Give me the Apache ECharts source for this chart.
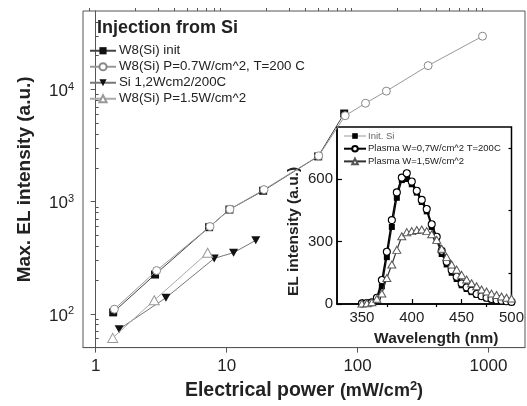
<!DOCTYPE html>
<html><head><meta charset="utf-8">
<script src="https://cdn.jsdelivr.net/npm/echarts/dist/echarts.min.js"></script>
<style>html,body{margin:0;padding:0;background:#fff}#c{width:527px;height:406px}</style>
</head><body><div id="c"></div>
<script>
// ---- main chart data (Electrical power mW/cm^2 vs Max. EL intensity a.u.) ----
const nameInit = 'W8(Si) init';
const powerInit = [1.36, 2.84, 7.35, 10.5, 19, 50, 79];
const elInit = [103, 224, 592, 850, 1250, 2530, 6100];

const nameP07 = 'W8(Si) P=0.7W/cm^2, T=200 C';
const powerP07 = [1.39, 2.92, 7.46, 10.6, 19.3, 50.5, 80.4, 115, 166, 346, 900];
const elP07 = [110, 243, 600, 855, 1280, 2560, 5830, 7530, 9660, 16300, 29800];

const nameSi12 = 'Si 1,2Wcm2/200C';
const powerSi12 = [1.51, 3.44, 8.04, 11.3, 16.7];
const elSi12 = [73, 139, 312, 351, 452];

const nameP15 = 'W8(Si) P=1.5W/cm^2';
const powerP15 = [1.35, 2.8, 7.16];
const elP15 = [61, 132, 350];

// ---- main axis ticks ----
const xMajor = [1, 10, 100, 1000];
const xMinor = [0.9, 2, 3, 4, 5, 6, 7, 8, 9, 20, 30, 40, 50, 60, 70, 80, 90, 200, 300, 400, 500, 600, 700, 800, 900];
const yMajor = [100, 1000, 10000];
const yMinor = [60, 70, 80, 90, 200, 300, 400, 500, 600, 700, 800, 900, 2000, 3000, 4000, 5000, 6000, 7000, 8000, 9000, 20000, 30000, 40000];

// ---- inset data (Wavelength nm vs EL intensity a.u.) ----
const insetNameInit = 'Init. Si';
const insetNameP07 = 'Plasma W=0,7W/cm^2 T=200C';
const insetNameP15 = 'Plasma W=1,5W/cm^2';
const wavelength = [350, 355, 360, 365, 370, 375, 380, 385, 390, 395, 400, 405, 410, 415, 420, 425, 430, 435, 440, 445, 450, 455, 460, 465, 470, 475, 480, 485, 490, 495, 500];
const insetInit = [0, 2, 5, 25, 85, 225, 370, 510, 595, 600, 575, 535, 490, 445, 370, 305, 240, 190, 150, 120, 90, 72, 57, 44, 35, 27, 21, 17, 14, 11, 9];
const insetP07 = [3, 5, 8, 30, 115, 251, 403, 536, 607, 628, 588, 544, 500, 456, 383, 323, 256, 203, 163, 131, 99, 80, 64, 48, 38, 30, 24, 19, 16, 13, 10];
const insetP15 = [2, 4, 8, 25, 50, 125, 190, 260, 325, 345, 350, 355, 358, 350, 335, 308, 265, 225, 190, 165, 140, 118, 100, 85, 70, 60, 50, 43, 36, 30, 26];
const insetXMajor = [350, 400, 450, 500];
const insetXMinor = [375, 425, 475];
const insetYMajor = [0, 300, 600];
const insetYMinor = [150, 450, 750];

const FONT = "'Liberation Sans', Arial, sans-serif";
const lg = v => Math.log10(v);
const pairs = (xs, ys) => xs.map((x, i) => [lg(x), lg(ys[i])]);
const zipPairs = (xs, ys) => xs.map((x, i) => [x, ys[i]]);
const AX = '#555';
const TXT = '#222';

const option = {
  animation: false,
  backgroundColor: '#fff',
  textStyle: { fontFamily: FONT },
  title: {
    text: 'Injection from Si', left: 97, top: 19, padding: 0,
    textStyle: { fontFamily: FONT, fontSize: 18, fontWeight: 'bold', color: TXT }
  },
  legend: [
    {
      data: [nameInit, nameP07, nameSi12, nameP15],
      orient: 'vertical', left: 89, top: 44, padding: 0,
      itemWidth: 26, itemHeight: 9, itemGap: 2.5,
      textStyle: { fontFamily: FONT, fontSize: 13.3, lineHeight: 13.5, color: TXT, padding: [0, 0, 0, -2] }
    },
    {
      data: [
        { name: insetNameInit, lineStyle: { color: '#999', width: 1 }, textStyle: { color: '#666' } },
        insetNameP07, insetNameP15
      ],
      orient: 'vertical', left: 343, top: 131, padding: 0,
      itemWidth: 22, itemHeight: 7, itemGap: 2.7,
      textStyle: { fontFamily: FONT, fontSize: 9.5, lineHeight: 10, color: TXT, padding: [0, 0, 0, -3] }
    }
  ],
  grid: [
    { left: 83, top: 11, width: 442, height: 343, show: true, borderColor: AX, borderWidth: 1, backgroundColor: 'transparent' },
    { left: 337, top: 127, width: 178, height: 177, show: true, borderColor: '#000', borderWidth: 1.5, backgroundColor: '#fff' }
  ],
  xAxis: [
    {
      gridIndex: 0, type: 'value', min: lg(0.8), max: lg(1900),
      axisLine: { show: true, lineStyle: { color: AX, width: 1 } },
      axisTick: { show: true, customValues: xMajor.map(lg), length: 5, lineStyle: { color: AX } },
      axisLabel: { customValues: xMajor.map(lg), formatter: v => String(Math.round(Math.pow(10, v))), fontSize: 17, color: TXT, margin: 10, fontFamily: FONT },
      splitLine: { show: false },
      name: '{b|Electrical power }{n|(mW/cm}{s|2}{n|)}',
      nameLocation: 'middle', nameGap: 28,
      nameTextStyle: {
        rich: {
          b: { fontSize: 19.5, fontWeight: 'bold', color: TXT, fontFamily: FONT },
          n: { fontSize: 18, fontWeight: 'bold', color: TXT, fontFamily: FONT },
          s: { fontSize: 13, fontWeight: 'bold', color: TXT, fontFamily: FONT, padding: [0, 0, 10, 0] }
        }
      }
    },
    {
      gridIndex: 0, type: 'value', min: lg(0.8), max: lg(1900),
      axisLine: { show: false },
      axisTick: { show: true, customValues: xMinor.map(lg), length: 3, lineStyle: { color: AX } },
      axisLabel: { show: false }, splitLine: { show: false }
    },
    {
      gridIndex: 1, type: 'value', min: 325, max: 500,
      axisLine: { show: true, lineStyle: { color: '#000', width: 1.5 } },
      axisTick: { show: true, inside: true, customValues: insetXMajor, length: 5, lineStyle: { color: '#000', width: 1.2 } },
      axisLabel: { customValues: insetXMajor, fontSize: 15, color: TXT, margin: 6, fontFamily: FONT },
      splitLine: { show: false },
      name: 'Wavelength (nm)', nameLocation: 'middle', nameGap: 27,
      nameTextStyle: { fontSize: 15.5, fontWeight: 'bold', color: TXT, fontFamily: FONT, padding: [0, 0, 0, 24] }
    },
    {
      gridIndex: 1, type: 'value', min: 325, max: 500,
      axisLine: { show: false },
      axisTick: { show: true, inside: true, customValues: insetXMinor, length: 3, lineStyle: { color: '#000', width: 1.2 } },
      axisLabel: { show: false }, splitLine: { show: false }
    }
  ],
  yAxis: [
    {
      gridIndex: 0, type: 'value', min: lg(50), max: lg(50000),
      axisLine: { show: true, lineStyle: { color: AX, width: 1 } },
      axisTick: { show: true, customValues: yMajor.map(lg), length: 5, lineStyle: { color: AX } },
      axisLabel: {
        customValues: yMajor.map(lg), margin: 9, fontFamily: FONT, padding: [4, 0, 0, 0],
        formatter: v => '{m|10}{s|' + Math.round(v) + '}',
        rich: {
          m: { fontSize: 17, color: TXT, fontFamily: FONT },
          s: { fontSize: 11, color: TXT, fontFamily: FONT, padding: [0, 0, 9, 0] }
        }
      },
      splitLine: { show: false },
      name: 'Max. EL intensity (a.u.)', nameLocation: 'middle', nameGap: 49,
      nameTextStyle: { fontSize: 19, fontWeight: 'bold', color: TXT, fontFamily: FONT }
    },
    {
      gridIndex: 0, type: 'value', min: lg(50), max: lg(50000),
      axisLine: { show: false },
      axisTick: { show: true, customValues: yMinor.map(lg), length: 3, lineStyle: { color: AX } },
      axisLabel: { show: false }, splitLine: { show: false }
    },
    {
      gridIndex: 1, type: 'value', min: 0, max: 850,
      axisLine: { show: true, lineStyle: { color: '#000', width: 1.5 } },
      axisTick: { show: true, inside: true, customValues: insetYMajor, length: 5, lineStyle: { color: '#000', width: 1.2 } },
      axisLabel: { customValues: insetYMajor, fontSize: 15, color: TXT, margin: 4, fontFamily: FONT },
      splitLine: { show: false },
      name: 'EL intensity (a.u.)', nameLocation: 'middle', nameGap: 35,
      nameTextStyle: { fontSize: 15.5, fontWeight: 'bold', color: TXT, fontFamily: FONT, padding: [0, 32, 0, 0] }
    },
    {
      gridIndex: 1, type: 'value', min: 0, max: 850,
      axisLine: { show: false },
      axisTick: { show: true, inside: true, customValues: insetYMinor, length: 3, lineStyle: { color: '#000', width: 1.2 } },
      axisLabel: { show: false }, splitLine: { show: false }
    }
  ],
  series: [
    {
      name: nameInit, type: 'line', xAxisIndex: 0, yAxisIndex: 0,
      data: pairs(powerInit, elInit),
      symbol: 'rect', symbolSize: 8,
      lineStyle: { color: '#444', width: 1 },
      itemStyle: { color: '#111', borderColor: '#111', borderWidth: 0 }, z: 3
    },
    {
      name: nameP07, type: 'line', xAxisIndex: 0, yAxisIndex: 0,
      data: pairs(powerP07, elP07),
      symbol: 'circle', symbolSize: 8,
      lineStyle: { color: '#999', width: 1 },
      itemStyle: { color: '#fff', borderColor: '#888', borderWidth: 1 }, z: 4
    },
    {
      name: nameSi12, type: 'line', xAxisIndex: 0, yAxisIndex: 0,
      data: pairs(powerSi12, elSi12),
      symbol: 'path://M0,0 L10,0 L5,9 Z', symbolSize: [9, 8],
      lineStyle: { color: '#777', width: 1 },
      itemStyle: { color: '#111', borderWidth: 0 }, z: 3
    },
    {
      name: nameP15, type: 'line', xAxisIndex: 0, yAxisIndex: 0,
      data: pairs(powerP15, elP15),
      symbol: 'triangle', symbolSize: [10, 9],
      lineStyle: { color: '#aaa', width: 1 },
      itemStyle: { color: '#fff', borderColor: '#999', borderWidth: 1 }, z: 4
    },
    {
      name: insetNameInit, type: 'line', xAxisIndex: 2, yAxisIndex: 2,
      data: zipPairs(wavelength, insetInit),
      symbol: 'rect', symbolSize: 6,
      lineStyle: { color: '#111', width: 1.3 },
      itemStyle: { color: '#000', borderWidth: 0 }, z: 5
    },
    {
      name: insetNameP07, type: 'line', xAxisIndex: 2, yAxisIndex: 2,
      data: zipPairs(wavelength, insetP07),
      symbol: 'circle', symbolSize: 7,
      lineStyle: { color: '#000', width: 1.5 },
      itemStyle: { color: '#fff', borderColor: '#000', borderWidth: 1.1 }, z: 6
    },
    {
      name: insetNameP15, type: 'line', xAxisIndex: 2, yAxisIndex: 2,
      data: zipPairs(wavelength, insetP15),
      symbol: 'triangle', symbolSize: [8, 7],
      lineStyle: { color: '#333', width: 1.2 },
      itemStyle: { color: '#fff', borderColor: '#555', borderWidth: 1 }, z: 7
    }
  ]
};
const chart = echarts.init(document.getElementById('c'), null, { renderer: 'canvas' });
chart.setOption(option);
</script></body></html>
